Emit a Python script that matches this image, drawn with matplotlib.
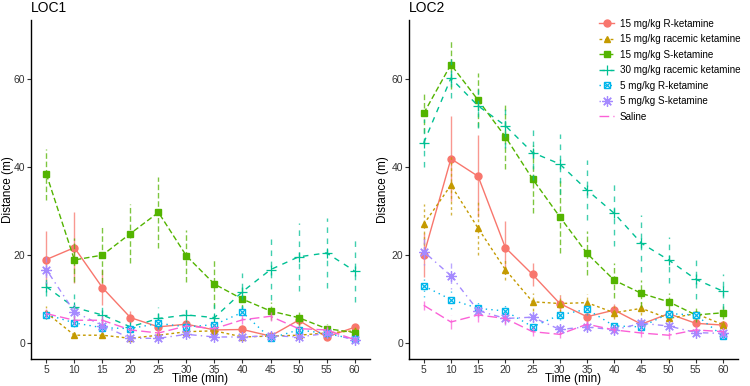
import numpy as np
import matplotlib.pyplot as plt
from matplotlib.lines import Line2D

plt.rcParams['font.family'] = ['Liberation Sans', 'DejaVu Sans']

time_min = [5, 10, 15, 20, 25, 30, 35, 40, 45, 50, 55, 60]

groups = ['15 mg/kg R-ketamine', '15 mg/kg racemic ketamine', '15 mg/kg S-ketamine',
          '30 mg/kg racemic ketamine', '5 mg/kg R-ketamine', '5 mg/kg S-ketamine', 'Saline']

# mean distance (m), group order as above
loc1_mean = [
    [19.0, 21.7, 12.6, 5.8, 3.7, 4.3, 3.0, 3.1, 1.6, 5.2, 1.4, 3.6],
    [6.9, 1.8, 1.8, 1.1, 1.8, 2.6, 2.8, 1.4, 1.6, 1.8, 2.3, 2.8],
    [38.4, 18.9, 20.0, 24.9, 29.7, 19.8, 13.4, 10.0, 7.3, 5.8, 3.3, 2.4],
    [12.8, 8.1, 6.4, 3.7, 5.6, 6.4, 5.8, 11.7, 16.7, 19.6, 20.5, 16.4],
    [6.5, 4.6, 3.5, 3.3, 4.5, 3.7, 4.2, 7.0, 1.1, 3.0, 2.2, 0.9],
    [16.7, 7.1, 4.0, 1.1, 1.1, 2.0, 1.4, 1.4, 1.7, 1.4, 2.2, 0.8],
    [6.7, 5.2, 5.2, 3.0, 2.3, 3.9, 3.3, 5.3, 6.1, 3.3, 3.0, 0.8],
]
loc1_sem = [
    [6.5, 8.0, 4.0, 1.5, 1.0, 1.0, 0.8, 1.0, 0.5, 1.0, 0.5, 0.8],
    [1.5, 0.5, 0.5, 0.5, 0.5, 0.8, 0.8, 0.5, 0.5, 0.5, 0.8, 0.8],
    [5.8, 5.0, 6.3, 6.8, 8.0, 5.8, 5.5, 2.5, 2.0, 1.8, 1.0, 1.0],
    [2.0, 3.0, 2.0, 1.0, 2.7, 2.5, 3.0, 4.3, 7.0, 7.8, 8.0, 7.0],
    [1.0, 1.0, 1.0, 0.8, 1.0, 1.0, 1.0, 1.5, 0.5, 0.8, 0.8, 0.5],
    [3.0, 2.0, 1.5, 0.5, 0.5, 0.5, 0.5, 0.5, 0.5, 0.5, 0.5, 0.3],
    [1.0, 1.0, 1.0, 0.8, 0.8, 0.8, 0.8, 1.0, 1.0, 0.8, 0.8, 0.3],
]
loc2_mean = [
    [20.0, 41.9, 37.9, 21.7, 15.6, 9.0, 6.0, 7.5, 4.3, 6.7, 4.5, 4.1],
    [27.0, 35.9, 26.1, 16.7, 9.4, 9.0, 9.2, 6.9, 7.9, 5.6, 6.7, 4.2],
    [52.2, 63.3, 55.2, 46.9, 37.3, 28.7, 20.4, 14.3, 11.3, 9.4, 6.4, 6.9],
    [45.5, 60.2, 53.9, 49.4, 43.3, 40.7, 34.8, 29.5, 22.7, 18.9, 14.5, 11.8],
    [13.0, 9.9, 7.9, 7.3, 3.7, 6.4, 7.7, 3.9, 3.7, 6.7, 6.4, 1.6],
    [20.8, 15.3, 7.4, 5.6, 5.9, 3.1, 3.7, 3.0, 4.5, 3.9, 2.4, 2.2],
    [8.6, 4.8, 6.4, 5.6, 2.6, 2.0, 4.3, 3.0, 2.3, 1.8, 3.0, 2.6],
]
loc2_sem = [
    [5.0, 9.7, 9.3, 6.1, 2.7, 2.0, 1.5, 1.5, 1.0, 1.0, 0.8, 0.8],
    [4.7, 6.8, 6.1, 2.4, 2.0, 2.0, 2.0, 1.5, 1.5, 1.2, 1.2, 1.0],
    [4.5, 5.6, 6.2, 7.4, 7.8, 8.3, 5.0, 4.0, 3.0, 2.0, 1.5, 1.5],
    [5.4, 4.5, 5.0, 5.0, 6.2, 6.9, 6.8, 7.5, 6.5, 5.3, 4.5, 4.0],
    [2.5, 2.2, 1.5, 1.5, 1.0, 1.2, 1.2, 1.0, 1.0, 1.0, 1.0, 0.5],
    [3.0, 3.0, 1.5, 1.5, 1.0, 1.0, 1.0, 1.0, 1.0, 1.0, 0.8, 0.8],
    [1.0, 1.5, 1.5, 1.2, 1.0, 0.8, 0.8, 0.8, 0.8, 0.8, 0.8, 0.8],
]

# ggplot default hue palette, linetypes and shapes
colors = ['#F8766D', '#C49A00', '#53B400', '#00C094', '#00B6EB', '#A58AFF', '#FB61D7']
dash_list = [None, (2, 2), (4, 2), (4, 4), (1, 3), (1, 3, 4, 3), (7, 3)]
markers = ['o', '^', 's', '+', 'sx', (8, 2, 0), None]

LW = 1.0
MS = 5.0


def line_kw(i):
    kw = dict(color=colors[i], lw=LW)
    if dash_list[i] is None:
        kw['linestyle'] = '-'
    else:
        kw['linestyle'] = (0, dash_list[i])
    return kw


def marker_handles(i):
    kw = line_kw(i)
    m = markers[i]
    if m == 'sx':
        h1 = Line2D([], [], marker='s', mfc='none', mec=colors[i], mew=1.0, ms=MS, **kw)
        h2 = Line2D([], [], marker='x', color=colors[i], mew=0.9, ms=MS - 1.2, linestyle='none')
        return (h1, h2)
    if m is None:
        return Line2D([], [], **kw)
    if m in ('+', (8, 2, 0)):
        return Line2D([], [], marker=m, mec=colors[i], mew=0.9, ms=MS + 2.5, **kw)
    return Line2D([], [], marker=m, mec=colors[i], mfc=colors[i], ms=MS, **kw)


def draw_panel(ax, means, sems, title, ylab_x):
    for i in range(len(groups)):
        m = np.array(means[i])
        s = np.array(sems[i])
        ls = '-' if dash_list[i] is None else (0, dash_list[i])
        ax.vlines(time_min, m - s, m + s, colors=colors[i], linestyles=ls, lw=LW, alpha=0.75)
        kw = line_kw(i)
        mk = markers[i]
        if mk == 'sx':
            ax.plot(time_min, m, marker='s', mfc='white', mec=colors[i], mew=1.0, ms=MS, **kw)
            ax.plot(time_min, m, marker='x', color=colors[i], mew=0.9, ms=MS - 1.2, linestyle='none')
        elif mk is None:
            ax.plot(time_min, m, **kw)
        elif mk in ('+', (8, 2, 0)):
            ax.plot(time_min, m, marker=mk, mec=colors[i], mew=0.9, ms=MS + 2.5, **kw)
        else:
            ax.plot(time_min, m, marker=mk, mec=colors[i], mfc=colors[i], ms=MS, **kw)

    ax.set_xlim(2.25, 62.75)
    ax.set_ylim(-3.6, 73.4)
    ax.set_xticks(time_min)
    ax.set_yticks([0, 20, 40, 60])
    for side in ['top', 'right']:
        ax.spines[side].set_visible(False)
    for side in ['left', 'bottom']:
        ax.spines[side].set_linewidth(1.0)
        ax.spines[side].set_color('black')
    ax.tick_params(length=3, width=0.8, color='#333333', labelsize=7.5, labelcolor='#333333', pad=1.0)
    ax.set_xlabel('Time (min)', fontsize=8.5, va='center')
    ax.xaxis.set_label_coords(0.5, -0.059)
    ax.set_ylabel('Distance (m)', fontsize=8.5, va='center')
    ax.yaxis.set_label_coords(ylab_x, 0.5)
    ax.set_title(title, loc='left', fontsize=10, pad=6)


fig = plt.figure(figsize=(7.5, 3.86), dpi=100)
ax1 = fig.add_axes([0.0413, 0.070, 0.452, 0.878])
ax2 = fig.add_axes([0.545, 0.070, 0.439, 0.878])

draw_panel(ax1, loc1_mean, loc1_sem, 'LOC1', -0.068)
draw_panel(ax2, loc2_mean, loc2_sem, 'LOC2', -0.078)

handles = [marker_handles(i) for i in range(len(groups))]
fig.legend(handles, groups, loc='upper left', bbox_to_anchor=(0.799, 0.952),
           frameon=False, fontsize=7.1, handlelength=1.5, handletextpad=0.6,
           labelspacing=0.56, borderpad=0, borderaxespad=0)

fig.savefig('out.png', dpi=100)
